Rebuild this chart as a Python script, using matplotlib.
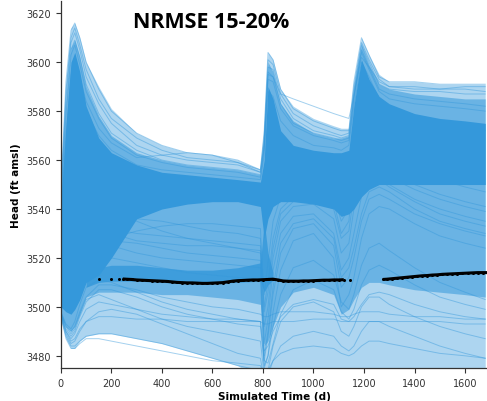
import matplotlib
matplotlib.use("Agg")
import matplotlib.pyplot as plt

blue = "#3498db"

# simulation output times (days)
t = [0, 20, 40, 55, 75, 100, 150, 200, 300, 400, 500, 600, 700, 790, 805, 820,
     840, 870, 920, 1000, 1080, 1110, 1140, 1160, 1190, 1220, 1260, 1300, 1400,
     1500, 1600, 1680]

# spread of the whole ensemble
env_hi = [3550, 3592, 3614, 3616, 3610, 3600, 3590, 3581, 3571, 3566, 3563, 3562,
          3560, 3556, 3574, 3604, 3601, 3589, 3582, 3577, 3574, 3573, 3573, 3592,
          3610, 3603, 3595, 3592, 3592, 3591, 3591, 3591]
env_lo = [3495, 3487, 3483, 3483, 3486, 3488, 3489, 3489, 3487, 3485, 3482, 3479,
          3476, 3470, 3470, 3470, 3470, 3470, 3470, 3470, 3470, 3470, 3470, 3470,
          3470, 3470, 3470, 3470, 3470, 3470, 3470, 3470]

# band holding most of the runs
mid_hi = [3545, 3582, 3606, 3609, 3602, 3590, 3578, 3570, 3563, 3560, 3558, 3557,
          3556, 3554, 3570, 3600, 3596, 3583, 3576, 3571, 3569, 3569, 3570, 3590,
          3607, 3599, 3591, 3589, 3587, 3586, 3585, 3585]
mid_lo = [3496, 3492, 3490, 3492, 3497, 3504, 3506, 3506, 3506, 3505, 3505, 3504,
          3503, 3501, 3484, 3486, 3492, 3500, 3506, 3508, 3505, 3497, 3499, 3503,
          3508, 3510, 3510, 3509, 3507, 3506, 3505, 3504]

# saturated core
core_hi = [3542, 3574, 3600, 3604, 3596, 3582, 3569, 3563, 3558, 3555, 3554, 3553,
           3552, 3551, 3560, 3590, 3585, 3572, 3566, 3564, 3563, 3563, 3564, 3582,
           3601, 3593, 3586, 3583, 3579, 3577, 3576, 3575]
core_lo = [3500, 3498, 3497, 3499, 3503, 3510, 3513, 3520, 3536, 3540, 3542, 3543,
           3543, 3541, 3528, 3536, 3541, 3543, 3543, 3542, 3540, 3537, 3538, 3540,
           3545, 3548, 3550, 3550, 3550, 3550, 3550, 3550]

# crowded strip of runs sitting just above the measured heads
strip_t = [100, 150, 200, 300, 400, 500, 600, 700, 790, 805, 820, 840]
strip_lo = [3508, 3510, 3510.5, 3510.5, 3510, 3509.5, 3509.5, 3510, 3510.5, 3506, 3509, 3511]
strip_hi = [3512, 3516, 3517, 3517, 3516, 3515, 3515, 3516, 3518, 3535, 3522, 3514]

# individual realisations
peak_runs = [
    [3548, 3592, 3613, 3616, 3610, 3600, 3589, 3580, 3571, 3566, 3563, 3562, 3560, 3556, 3572, 3604,
     3601, 3589, 3581, 3576, 3573, 3572, 3572, 3592, 3610, 3603, 3594, 3592, 3592, 3591, 3591, 3591],
    [3544, 3585, 3608, 3612, 3605, 3594, 3583, 3575, 3566, 3562, 3560, 3559, 3558, 3555, 3568, 3598,
     3597, 3585, 3577, 3572, 3570, 3569, 3570, 3588, 3607, 3600, 3591, 3589, 3588, 3588, 3587, 3587],
    [3540, 3578, 3603, 3607, 3599, 3588, 3577, 3569, 3562, 3559, 3557, 3556, 3555, 3553, 3565, 3593,
     3592, 3581, 3574, 3570, 3568, 3567, 3568, 3585, 3604, 3597, 3588, 3585, 3583, 3582, 3581, 3580],
    [3538, 3570, 3595, 3600, 3594, 3584, 3573, 3567, 3561, 3562, 3563, 3562, 3559, 3555, 3566, 3596,
     3594, 3587, 3585, 3582, 3579, 3578, 3577, 3586, 3602, 3598, 3592, 3590, 3589, 3589, 3590, 3590],
    [3536, 3565, 3590, 3596, 3590, 3580, 3570, 3564, 3558, 3556, 3555, 3554, 3553, 3552, 3562, 3588,
     3586, 3576, 3570, 3566, 3565, 3564, 3566, 3582, 3600, 3594, 3585, 3581, 3578, 3576, 3574, 3572],
    [3546, 3588, 3610, 3614, 3607, 3597, 3585, 3577, 3569, 3564, 3561, 3560, 3559, 3556, 3570, 3601,
     3599, 3587, 3579, 3574, 3571, 3570, 3571, 3590, 3608, 3601, 3593, 3590, 3590, 3589, 3589, 3588],
    [3542, 3581, 3605, 3609, 3602, 3591, 3579, 3571, 3564, 3560, 3558, 3557, 3556, 3554, 3566, 3595,
     3594, 3583, 3575, 3571, 3569, 3568, 3569, 3586, 3605, 3598, 3589, 3587, 3585, 3584, 3583, 3582],
]
mid_runs = [
    [3530, 3545, 3560, 3565, 3562, 3555, 3547, 3542, 3535, 3531, 3528, 3526, 3524, 3522, 3500, 3510,
     3528, 3540, 3545, 3546, 3543, 3530, 3535, 3555, 3570, 3565, 3558, 3555, 3550, 3546, 3543, 3541],
    [3522, 3530, 3540, 3545, 3545, 3540, 3534, 3530, 3527, 3526, 3525, 3525, 3524, 3523, 3485, 3495,
     3515, 3530, 3537, 3538, 3530, 3515, 3520, 3530, 3545, 3552, 3552, 3549, 3543, 3538, 3535, 3533],
    [3515, 3518, 3525, 3530, 3532, 3530, 3527, 3525, 3522, 3520, 3519, 3518, 3517, 3516, 3478, 3488,
     3505, 3522, 3532, 3534, 3525, 3508, 3512, 3520, 3535, 3544, 3546, 3544, 3538, 3534, 3531, 3529],
    [3510, 3508, 3510, 3514, 3518, 3520, 3521, 3520, 3518, 3516, 3514, 3513, 3512, 3511, 3475, 3480,
     3498, 3515, 3527, 3530, 3520, 3500, 3505, 3512, 3528, 3538, 3541, 3540, 3534, 3529, 3526, 3524],
    [3526, 3540, 3552, 3556, 3554, 3548, 3541, 3538, 3536, 3535, 3533, 3531, 3530, 3528, 3505, 3518,
     3535, 3545, 3550, 3550, 3546, 3535, 3540, 3560, 3578, 3572, 3565, 3561, 3556, 3552, 3549, 3547],
    [3518, 3524, 3532, 3538, 3540, 3538, 3534, 3532, 3530, 3529, 3528, 3527, 3526, 3525, 3492, 3500,
     3520, 3535, 3541, 3542, 3536, 3522, 3526, 3540, 3556, 3558, 3554, 3550, 3544, 3540, 3537, 3535],
    [3512, 3512, 3516, 3520, 3524, 3526, 3527, 3527, 3526, 3524, 3522, 3521, 3520, 3519, 3480, 3490,
     3508, 3526, 3534, 3536, 3528, 3512, 3516, 3524, 3538, 3547, 3549, 3547, 3540, 3535, 3532, 3530],
    [3520, 3528, 3537, 3541, 3541, 3537, 3531, 3528, 3531, 3533, 3534, 3534, 3533, 3532, 3498, 3506,
     3524, 3538, 3543, 3544, 3540, 3528, 3531, 3546, 3562, 3562, 3557, 3553, 3548, 3544, 3541, 3539],
]
low_runs = [
    [3496, 3488, 3484, 3484, 3486, 3488, 3489, 3489, 3487, 3485, 3482, 3479, 3476, 3474, 3470, 3470,
     3472, 3474, 3474, 3474, 3474, 3474, 3474, 3474, 3474, 3474, 3474, 3474, 3474, 3474, 3474, 3474],
    [3497, 3490, 3486, 3487, 3491, 3494, 3496, 3496, 3495, 3495, 3494, 3494, 3494, 3494, 3493, 3493,
     3494, 3494, 3494, 3495, 3495, 3494, 3494, 3494, 3494, 3494, 3494, 3494, 3494, 3494, 3493, 3493],
    [3497, 3491, 3488, 3490, 3496, 3502, 3507, 3507, 3504, 3500, 3497, 3495, 3493, 3492, 3478, 3477,
     3485, 3497, 3507, 3511, 3507, 3498, 3495, 3499, 3509, 3515, 3517, 3515, 3509, 3504, 3501, 3499],
    [3498, 3493, 3491, 3494, 3501, 3508, 3511, 3510, 3506, 3502, 3499, 3497, 3495, 3494, 3476, 3480,
     3492, 3505, 3516, 3519, 3513, 3502, 3499, 3505, 3517, 3524, 3526, 3523, 3516, 3510, 3506, 3503],
    [3497, 3489, 3485, 3486, 3490, 3494, 3498, 3499, 3497, 3493, 3489, 3485, 3481, 3479, 3470, 3472,
     3478, 3484, 3488, 3490, 3488, 3484, 3482, 3484, 3490, 3494, 3494, 3492, 3488, 3484, 3481, 3479],
    [3498, 3492, 3489, 3491, 3497, 3503, 3505, 3503, 3499, 3495, 3492, 3490, 3488, 3486, 3472, 3474,
     3484, 3494, 3500, 3502, 3498, 3490, 3488, 3492, 3500, 3504, 3504, 3501, 3496, 3492, 3489, 3487],
    [3497, 3492, 3490, 3492, 3498, 3504, 3509, 3509, 3507, 3504, 3502, 3500, 3499, 3497, 3496, 3496,
     3497, 3498, 3498, 3498, 3497, 3496, 3496, 3497, 3498, 3498, 3498, 3497, 3496, 3496, 3495, 3495],
    [3496, 3487, 3483, 3483, 3485, 3487, 3487, 3486, 3484, 3482, 3480, 3478, 3477, 3476, 3472, 3474,
     3478, 3481, 3483, 3484, 3483, 3481, 3480, 3481, 3484, 3486, 3486, 3485, 3483, 3481, 3480, 3479],
    [3497, 3490, 3487, 3489, 3494, 3499, 3502, 3501, 3499, 3497, 3496, 3495, 3495, 3494, 3482, 3484,
     3490, 3496, 3501, 3503, 3501, 3495, 3494, 3496, 3501, 3505, 3506, 3505, 3501, 3498, 3496, 3495],
]

# observed heads
obs_t = [150, 200, 230, 245, 260, 280, 300, 320, 340, 360, 380, 400, 420, 440, 460, 480,
         500, 520, 540, 560, 580, 600, 620, 640, 660, 680, 700, 720, 740, 760, 780, 800,
         820, 840, 860, 880, 900, 920, 940, 960, 980, 1000, 1020, 1040, 1060, 1080, 1100,
         1120, 1145, 1275, 1290, 1310, 1330, 1350, 1370, 1390, 1410, 1430, 1450, 1470,
         1490, 1510, 1530, 1550, 1570, 1590, 1610, 1630, 1650, 1670, 1690]
obs_h = [3511.5, 3511.2, 3511.3, 3511.4, 3511.3, 3511.2, 3511.0, 3510.9, 3510.8, 3510.7,
         3510.6, 3510.5, 3510.4, 3510.2, 3510.0, 3509.9, 3509.8, 3509.8, 3509.7, 3509.6,
         3509.6, 3509.7, 3509.8, 3509.9, 3510.2, 3510.5, 3510.7, 3510.8, 3510.9, 3511.0,
         3511.0, 3511.1, 3511.2, 3511.3, 3511.0, 3510.6, 3510.5, 3510.5, 3510.5, 3510.6,
         3510.6, 3510.7, 3510.8, 3510.9, 3510.9, 3511.0, 3511.0, 3511.1, 3511.0, 3511.2,
         3511.3, 3511.5, 3511.7, 3511.9, 3512.1, 3512.3, 3512.5, 3512.7, 3512.8, 3513.0,
         3513.1, 3513.3, 3513.4, 3513.5, 3513.6, 3513.7, 3513.8, 3513.9, 3514.0, 3514.0,
         3514.0]

fig = plt.figure(figsize=(4.87, 4.02), dpi=100)
ax = fig.add_axes([0.125, 0.082, 0.875, 0.913])

ax.fill_between(t, env_lo, env_hi, color=blue, alpha=0.4, lw=0)
ax.fill_between(t, mid_lo, mid_hi, color=blue, alpha=0.55, lw=0)
ax.fill_between(strip_t, strip_lo, strip_hi, color=blue, alpha=0.8, lw=0)
ax.fill_between(t, core_lo, core_hi, color=blue, alpha=1.0, lw=0)
for run in peak_runs + mid_runs + low_runs:
    ax.plot(t, run, color=blue, lw=0.7, alpha=0.45)

# continuous stretches of the record joined up, isolated readings as dots
i0, i1, i2 = obs_t.index(245), obs_t.index(1120), obs_t.index(1275)
ax.plot(obs_t[i0:i1 + 1], obs_h[i0:i1 + 1], color="black", lw=2.2, solid_capstyle="butt")
ax.plot(obs_t[i2:], obs_h[i2:], color="black", lw=2.2, solid_capstyle="butt")
ax.plot(obs_t, obs_h, ls="none", marker="o", ms=2.2, mew=0, color="black")

ax.set_xlim(0, 1687)
ax.set_ylim(3475, 3625)
ax.set_xticks([0, 200, 400, 600, 800, 1000, 1200, 1400, 1600])
ax.set_yticks([3480, 3500, 3520, 3540, 3560, 3580, 3600, 3620])
ax.tick_params(labelsize=7, colors="#333333", length=3.5, width=0.8)
ax.spines["top"].set_visible(False)
ax.spines["right"].set_visible(False)
for s in ("left", "bottom"):
    ax.spines[s].set_color("#333333")
    ax.spines[s].set_linewidth(0.9)

ax.set_xlabel("Simulated Time (d)", fontsize=7.5, fontweight="bold", labelpad=2)
ax.set_ylabel("Head (ft amsl)", fontsize=7.5, fontweight="bold", labelpad=4)
ax.text(0.352, 0.944, "NRMSE 15-20%", transform=ax.transAxes, ha="center", va="center",
        fontsize=15.5, fontweight="bold", family="Open Sans")

fig.savefig("out.png", dpi=100)
